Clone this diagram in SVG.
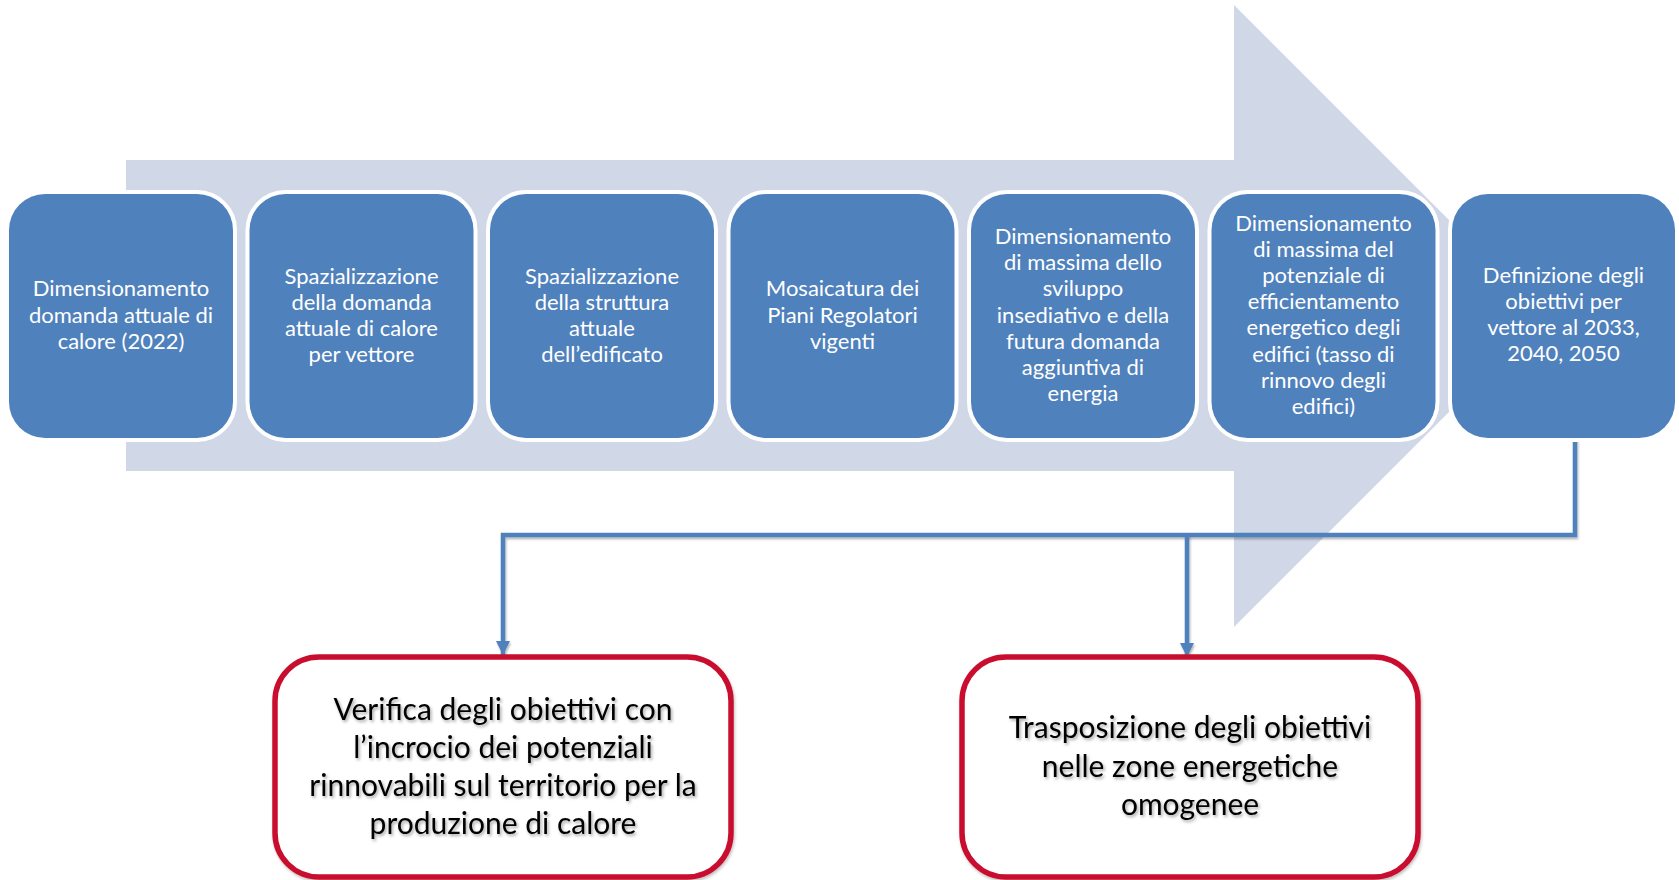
<svg xmlns="http://www.w3.org/2000/svg" width="1679" height="880" viewBox="0 0 1679 880">
<defs>
<style>
.step rect{fill:#4F81BD;stroke:#FFFFFF;stroke-width:8;paint-order:stroke}
.step text{fill:#FFFFFF;font-family:Lato,"Open Sans",sans-serif;font-size:22px;text-anchor:middle}
.out rect{fill:#FFFFFF;stroke:#C8102E;stroke-width:5.5;filter:url(#bsh)}
.out text{fill:#000000;font-family:Lato,"Open Sans",sans-serif;font-size:30px;text-anchor:middle;filter:url(#tsh)}
.conn{fill:none;stroke:#4F81BD;stroke-width:4.5;filter:url(#lsh)}
</style>
<filter id="tsh" x="-10%" y="-30%" width="120%" height="160%"><feDropShadow dx="1.5" dy="2" stdDeviation="1.5" flood-color="#000" flood-opacity="0.35"/></filter>
<filter id="bsh" x="-5%" y="-5%" width="110%" height="110%"><feDropShadow dx="1" dy="2" stdDeviation="1.5" flood-color="#000" flood-opacity="0.25"/></filter>
<filter id="lsh" filterUnits="userSpaceOnUse" x="0" y="0" width="1679" height="880"><feDropShadow dx="1" dy="2" stdDeviation="1.2" flood-color="#000" flood-opacity="0.3"/></filter>
<marker id="ah" viewBox="0 0 10 10" refX="10" refY="5" markerWidth="3.2" markerHeight="3.6" markerUnits="strokeWidth" orient="auto"><path d="M0,0 L10,5 L0,10 Z" fill="#4F81BD"/></marker>
</defs>
<rect width="1679" height="880" fill="#FFFFFF"/>
<polygon id="bigarrow" points="126,160 1234,160 1234,5 1545,316 1234,627 1234,471 126,471" fill="#D0D8E8"/>
<g id="connectors">
<polyline class="conn" points="1575,438 1575,535 503,535 503,655" marker-end="url(#ah)"/>
<polyline class="conn" points="1187,535 1187,657" marker-end="url(#ah)"/>
</g>
<g id="n1" class="step"><rect x="9" y="194" width="224" height="244" rx="36"/>
<text x="121" y="296">Dimensionamento</text><text x="121" y="322.5">domanda attuale di</text><text x="121" y="349">calore (2022)</text></g>
<g id="n2" class="step"><rect x="249.5" y="194" width="224" height="244" rx="36"/>
<text x="361.5" y="283.5">Spazializzazione</text><text x="361.5" y="309.8">della domanda</text><text x="361.5" y="336.1">attuale di calore</text><text x="361.5" y="362.4">per vettore</text></g>
<g id="n3" class="step"><rect x="490" y="194" width="224" height="244" rx="36"/>
<text x="602" y="283.5">Spazializzazione</text><text x="602" y="309.8">della struttura</text><text x="602" y="336.1">attuale</text><text x="602" y="362.4">dell’edificato</text></g>
<g id="n4" class="step"><rect x="730.5" y="194" width="224" height="244" rx="36"/>
<text x="842.5" y="296">Mosaicatura dei</text><text x="842.5" y="322.5">Piani Regolatori</text><text x="842.5" y="349">vigenti</text></g>
<g id="n5" class="step"><rect x="971" y="194" width="224" height="244" rx="36"/>
<text x="1083" y="244">Dimensionamento</text><text x="1083" y="270.2">di massima dello</text><text x="1083" y="296.4">sviluppo</text><text x="1083" y="322.6">insediativo e della</text><text x="1083" y="348.8">futura domanda</text><text x="1083" y="375">aggiuntiva di</text><text x="1083" y="401.2">energia</text></g>
<g id="n6" class="step"><rect x="1211.5" y="194" width="224" height="244" rx="36"/>
<text x="1323.5" y="231">Dimensionamento</text><text x="1323.5" y="257.1">di massima del</text><text x="1323.5" y="283.2">potenziale di</text><text x="1323.5" y="309.3">efficientamento</text><text x="1323.5" y="335.4">energetico degli</text><text x="1323.5" y="361.5">edifici (tasso di</text><text x="1323.5" y="387.6">rinnovo degli</text><text x="1323.5" y="413.7">edifici)</text></g>
<g id="n7" class="step"><rect x="1452" y="194" width="223" height="244" rx="36"/>
<text x="1563.5" y="282.5">Definizione degli</text><text x="1563.5" y="308.8">obiettivi per</text><text x="1563.5" y="335.1">vettore al 2033,</text><text x="1563.5" y="361.4">2040, 2050</text></g>
<g id="o1" class="out"><rect x="275" y="657" width="456" height="220" rx="44"/>
<text x="503" y="720">Verifica degli obiettivi con</text><text x="503" y="758">l’incrocio dei potenziali</text><text x="503" y="796">rinnovabili sul territorio per la</text><text x="503" y="834">produzione di calore</text></g>
<g id="o2" class="out"><rect x="962" y="657" width="456" height="220" rx="44"/>
<text x="1190" y="738">Trasposizione degli obiettivi</text><text x="1190" y="777">nelle zone energetiche</text><text x="1190" y="815">omogenee</text></g>
</svg>
